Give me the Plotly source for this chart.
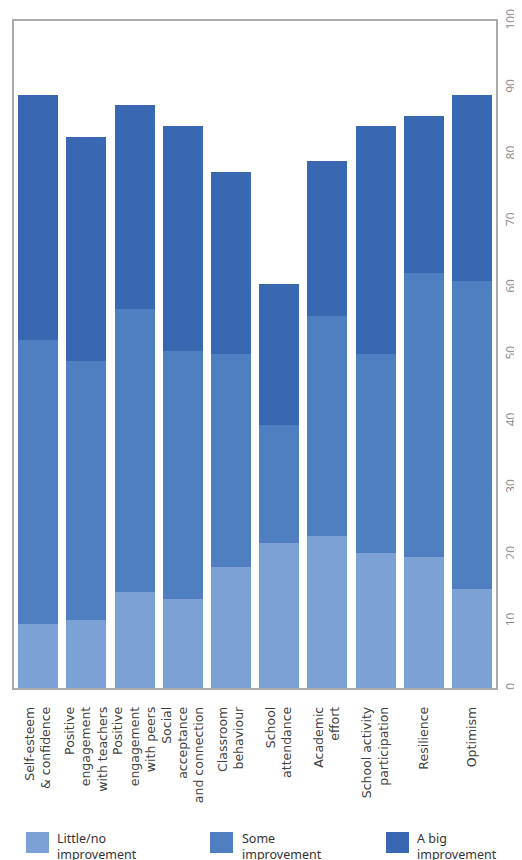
import plotly.graph_objects as go

categories = [
    "Self-esteem<br>& confidence",
    "Positive<br>engagement<br>with teachers",
    "Positive<br>engagement<br>with peers",
    "Social<br>acceptance<br>and connection",
    "Classroom<br>behaviour",
    "School<br>attendance",
    "Academic<br>effort",
    "School activity<br>participation",
    "Resilience",
    "Optimism",
]
series_names = ["Little/no<br>improvement", "Some<br>improvement", "A big<br>improvement"]
little = [9.6, 10.2, 14.4, 13.3, 18.1, 21.7, 22.8, 20.2, 19.6, 14.8]
some = [42.6, 38.8, 42.4, 37.2, 32.0, 17.8, 33.0, 29.9, 42.6, 46.2]
big = [36.7, 33.6, 30.6, 33.8, 27.3, 21.1, 23.2, 34.2, 23.6, 27.9]
y_ticks = [0, 10, 20, 30, 40, 50, 60, 70, 80, 90, 100]
colors = ["#7ca1d4", "#4f7ec1", "#3967b2"]

# page body has an 8px margin; plot box placed in page pixels
OFF = 8
W, H = 522 - OFF, 860 - OFF
L, T = 14 - OFF, 21 - OFF
R = W - (496 - OFF)
B = H - (688 - OFF)
pw, ph = W - L - R, H - T - B

fig = go.Figure()
for name, vals, col in zip(series_names, [little, some, big], colors):
    fig.add_trace(go.Bar(x=categories, y=vals, name=name, marker_color=col,
                         marker_line_width=0, showlegend=False))

fig.update_layout(
    width=W, height=H, barmode="stack", bargap=0.17,
    margin=dict(l=L, r=R, t=T, b=B, autoexpand=False),
    plot_bgcolor="white", paper_bgcolor="white",
    font=dict(family="DejaVu Sans", color="#404040"),
)
fig.update_xaxes(showline=True, mirror=True, linecolor="#ababab", linewidth=1.5,
                 tickangle=-90, ticks="", ticklabelstandoff=12,
                 tickfont=dict(size=12.5, color="#404040", family="DejaVu Sans"))
fig.update_yaxes(side="right", range=[0, 100], tickvals=y_ticks, ticksuffix="%",
                 showgrid=False, zeroline=False,
                 showline=True, mirror=True, linecolor="#ababab", linewidth=1.5,
                 tickangle=-90, ticks="", ticklabelstandoff=3,
                 tickfont=dict(size=12, color="#8c8c8c", family="Open Sans"))

# manual legend (positions in page pixels)
def px_to_paper(x, y):
    x -= OFF
    y -= OFF
    return (x - L) / pw, (H - B - y) / ph

sw_x = [26, 210, 386]
tx_x = [55, 240, 415]
for i, name in enumerate(series_names):
    x0, y0 = px_to_paper(sw_x[i], 832)
    x1, y1 = px_to_paper(sw_x[i] + 23, 853)
    fig.add_shape(type="rect", xref="paper", yref="paper", x0=x0, x1=x1, y0=y1, y1=y0,
                  fillcolor=colors[i], line_width=0)
    ax, ay = px_to_paper(tx_x[i], 828)
    fig.add_annotation(xref="paper", yref="paper", x=ax, y=ay, text=name,
                       showarrow=False, xanchor="left", yanchor="top", align="left",
                       font=dict(size=12.5, color="#333333", family="Noto Sans"))

fig.write_html("out.html")
